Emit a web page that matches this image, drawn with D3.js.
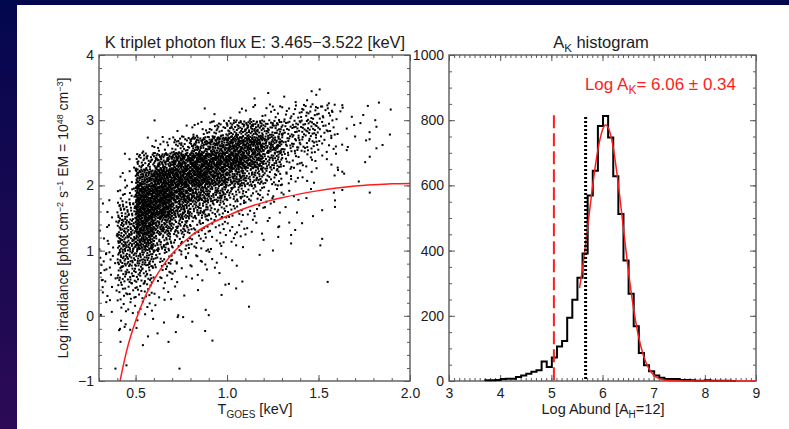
<!DOCTYPE html>
<html>
<head>
<meta charset="utf-8">
<script src="https://cdn.jsdelivr.net/npm/d3@7"></script>
<style>
  body { margin: 0; padding: 0; overflow: hidden; }
  svg { display: block; font-family: "Liberation Sans", Arial, Helvetica, sans-serif; }
</style>
</head>
<body>
<div id="chart"></div>
<script>
// ---- data ----

// left panel: x = T_GOES [keV], y = log irradiance
var scatterXDomain = [0.3, 2.0];
var scatterYDomain = [-1, 4];
var scatterXTicks = [0.5, 1.0, 1.5, 2.0];
var scatterYTicks = [-1, 0, 1, 2, 3, 4];

// density of the dot cloud: count of dots per cell (0.1 keV x 0.25 dex),
// columns start at 0.3 keV, rows listed from top (3.25-3.5) to bottom (-1.0 to -0.75)
var cloudColStart = [0.3, 0.4, 0.5, 0.6, 0.7, 0.8, 0.9, 1.0, 1.1, 1.2, 1.3, 1.4, 1.5, 1.6, 1.7, 1.8, 1.9];
var cloudRowStart = [3.25, 3.0, 2.75, 2.5, 2.25, 2.0, 1.75, 1.5, 1.25, 1.0, 0.75, 0.5, 0.25, 0.0, -0.25, -0.5, -0.75, -1.0];
var cloudCounts = [
  [0, 0, 0, 0, 0, 0, 0, 0, 1, 1, 2, 3, 2, 0, 0, 0, 0],
  [0, 0, 0, 0, 0, 0, 1, 3, 5, 9, 12, 20, 14, 3, 2, 1, 0],
  [0, 0, 0, 1, 3, 10, 25, 45, 55, 40, 30, 32, 14, 3, 2, 1, 0],
  [0, 0, 3, 12, 30, 60, 85, 100, 95, 65, 28, 22, 8, 2, 1, 1, 0],
  [0, 3, 35, 65, 100, 125, 125, 115, 90, 45, 16, 8, 4, 1, 1, 0, 0],
  [0, 5, 85, 130, 125, 130, 100, 70, 45, 22, 9, 4, 1, 1, 0, 0, 0],
  [1, 14, 135, 150, 105, 85, 55, 32, 18, 9, 4, 2, 1, 0, 0, 0, 0],
  [3, 35, 150, 125, 70, 45, 24, 14, 8, 5, 2, 1, 0, 0, 0, 0, 0],
  [4, 50, 125, 72, 38, 20, 11, 8, 5, 2, 1, 0, 0, 0, 0, 0, 0],
  [6, 55, 85, 38, 18, 11, 7, 5, 2, 1, 0, 0, 0, 0, 0, 0, 0],
  [8, 45, 48, 20, 10, 7, 5, 2, 1, 0, 0, 0, 0, 0, 0, 0, 0],
  [7, 30, 28, 11, 5, 4, 2, 1, 0, 0, 0, 0, 0, 0, 0, 0, 0],
  [4, 16, 15, 5, 2, 1, 1, 0, 0, 0, 0, 0, 0, 0, 0, 0, 0],
  [1, 8, 7, 2, 1, 1, 0, 0, 0, 0, 0, 0, 0, 0, 0, 0, 0],
  [0, 3, 2, 1, 1, 1, 0, 0, 0, 0, 0, 0, 0, 0, 0, 0, 0],
  [0, 1, 1, 0, 0, 0, 0, 0, 0, 0, 0, 0, 0, 0, 0, 0, 0],
  [0, 0, 0, 0, 0, 0, 0, 0, 0, 0, 0, 0, 0, 0, 0, 0, 0],
  [0, 0, 0, 0, 0, 0, 0, 0, 0, 0, 0, 0, 0, 0, 0, 0, 0]
];
var cloudCellW = 0.1, cloudCellH = 0.25;

// single stray dots readable on their own
var strayT = [0.878, 1.25, 1.52, 1.63, 1.83, 1.89, 1.85, 1.81, 1.78, 1.76, 1.70, 1.66, 1.64, 1.63, 1.59, 1.59, 1.63, 1.72, 1.78, 1.52,
              1.51, 1.52, 1.55, 1.41, 1.34, 1.35, 1.35, 1.28, 1.28, 1.12, 1.05, 1.01, 0.97, 0.92, 0.90, 0.81, 0.76, 0.72, 0.74, 0.68,
              0.62, 0.54, 0.51, 0.41, 0.415, 0.44, 0.39, 0.45, 0.36, 0.37, 0.34, 0.33, 0.32, 0.34, 0.32];
var strayV = [3.18, 3.21, 3.21, 3.23, 3.27, 2.78, 2.62, 3.0, 2.44, 2.69, 2.75, 2.59, 2.18, 2.21, 1.77, 1.67, 1.93, 2.06, 1.89, 1.62,
              1.08, 1.18, 0.52, 1.42, 1.43, 1.24, 1.11, 1.36, 1.21, 0.14, 0.42, 0.49, 0.32, -0.38, 0.01, -0.09, -0.02, -0.25, -0.81, -0.40,
              -0.27, -0.45, -0.07, -0.22, -0.20, -0.17, -0.81, -0.76, 0.24, 0.06, 0.21, 0.70, 0.55, 0.96, 0.44];

// red model curve on the left panel
var curveT = [0.415, 0.45, 0.5, 0.55, 0.6, 0.65, 0.7, 0.8, 0.9, 1.0, 1.1, 1.2, 1.3, 1.4, 1.5, 1.6, 1.7, 1.8, 1.9, 2.0];
var curveV = [-1, -0.55, -0.08, 0.28, 0.55, 0.77, 0.95, 1.22, 1.40, 1.53, 1.65, 1.74, 1.81, 1.87, 1.92, 1.96, 1.99, 2.01, 2.025, 2.03];

// right panel: histogram of log abundance
var histXDomain = [3, 9];
var histYDomain = [0, 1000];
var histXTicks = [3, 4, 5, 6, 7, 8, 9];
var histYTicks = [0, 200, 400, 600, 800, 1000];
var binEdges = [3.71, 3.81, 3.91, 4.01, 4.11, 4.21, 4.31, 4.41, 4.51, 4.61, 4.71, 4.81, 4.91, 5.01, 5.11, 5.21, 5.31, 5.41, 5.51, 5.61,
                5.71, 5.81, 5.91, 6.01, 6.11, 6.21, 6.31, 6.41, 6.51, 6.61, 6.71, 6.81, 6.91, 7.01, 7.11, 7.21, 7.31, 7.41, 7.51, 7.61,
                7.71, 7.81, 7.91, 8.01, 8.11, 8.21, 8.31, 8.41, 8.51];
var binCounts = [2, 2, 3, 6, 7, 7, 12, 17, 22, 28, 33, 60, 43, 72, 106, 123, 194, 249, 317, 391,
                 569, 645, 782, 813, 747, 628, 512, 370, 268, 168, 86, 48, 30, 17, 10, 6, 6, 6, 3, 3,
                 2, 1, 1, 2, 1, 1, 1, 1, 0];

// gaussian fit (red) read as points
var fitX = [5.55, 5.6, 5.7, 5.8, 5.9, 6.0, 6.06, 6.1, 6.2, 6.3, 6.4, 6.5, 6.6, 6.7, 6.8, 6.9, 7.0, 7.1, 7.2, 7.4, 7.6, 9.0];
var fitY = [285, 335, 460, 590, 700, 770, 785, 780, 725, 615, 480, 345, 230, 140, 78, 40, 18, 8, 3, 0.5, 0, 0];

var redDashX = 5.05, redDashTop = 815;
var blackDotX = 5.67, blackDotTop = 810;

// ---- layout ----
var W = 789, H = 429;
var red = "#ff1c1c", axisCol = "#5a5a5a", textCol = "#1c1c24";

var svg = d3.select("#chart").append("svg")
    .attr("width", W).attr("height", H);

var defs = svg.append("defs");
var grad = defs.append("linearGradient").attr("id", "strip")
    .attr("x1", 0).attr("y1", 0).attr("x2", 0).attr("y2", 1);
grad.append("stop").attr("offset", "0%").attr("stop-color", "#03074e");
grad.append("stop").attr("offset", "100%").attr("stop-color", "#2c0a56");

svg.append("rect").attr("width", W).attr("height", H).attr("fill", "url(#strip)");
svg.append("rect").attr("width", W).attr("height", 5).attr("fill", "#03074e");
svg.append("rect").attr("x", 17).attr("y", 5).attr("width", W - 17).attr("height", H - 5).attr("fill", "#fff");

// draws an IDL-like box with inward ticks on all four sides
function drawFrame(g, x, y, xMajor, xMinor, yMajor, yMinor, xFmt, yFmt) {
  var x0 = x.range()[0], x1 = x.range()[1], y0 = y.range()[0], y1 = y.range()[1];
  var maj = 6, mnr = 3;

  function ax(axisFn, vals, size, fmt, tr) {
    var a = g.append("g").attr("transform", tr)
      .call(axisFn.tickValues(vals).tickSizeInner(size).tickSizeOuter(0).tickFormat(fmt || ""));
    a.select(".domain").remove();
    a.selectAll("line").attr("stroke", axisCol).attr("stroke-width", 1);
    return a;
  }

  // bottom / top
  var b = ax(d3.axisBottom(x), xMajor, -maj, xFmt, "translate(0," + y0 + ")");
  b.selectAll("text").attr("y", 7).attr("dy", "0.71em");
  ax(d3.axisBottom(x), xMinor, -mnr, null, "translate(0," + y0 + ")");
  ax(d3.axisTop(x), xMajor, -maj, null, "translate(0," + y1 + ")");
  ax(d3.axisTop(x), xMinor, -mnr, null, "translate(0," + y1 + ")");
  // left / right
  var l = ax(d3.axisLeft(y), yMajor, -maj, yFmt, "translate(" + x0 + ",0)");
  l.selectAll("text").attr("x", -5);
  ax(d3.axisLeft(y), yMinor, -mnr, null, "translate(" + x0 + ",0)");
  ax(d3.axisRight(y), yMajor, -maj, null, "translate(" + x1 + ",0)");
  ax(d3.axisRight(y), yMinor, -mnr, null, "translate(" + x1 + ",0)");

  g.selectAll("text").attr("fill", textCol).style("font-size", "14px")
    .style("font-family", "'Liberation Sans', Arial, sans-serif");

  g.append("rect").attr("x", x0).attr("y", y1)
    .attr("width", x1 - x0).attr("height", y0 - y1)
    .attr("fill", "none").attr("stroke", axisCol).attr("stroke-width", 1.4);
}

function range(a, b, s) { return d3.range(Math.round((b - a) / s) + 1).map(function(i) { return +(a + i * s).toFixed(4); }); }

// ===== left panel =====
var xL = d3.scaleLinear().domain(scatterXDomain).range([99, 410]);
var yL = d3.scaleLinear().domain(scatterYDomain).range([381, 55]);

var gL = svg.append("g");
defs.append("clipPath").attr("id", "clipL").append("rect")
  .attr("x", 99).attr("y", 55).attr("width", 311).attr("height", 326);

// spread each cell's dots over the cell with a halton pattern
function halton(i, b) { var f = 1, r = 0; while (i > 0) { f /= b; r += f * (i % b); i = Math.floor(i / b); } return r; }
var dots = [], k = 1;
cloudRowStart.forEach(function(v0, r) {
  cloudColStart.forEach(function(t0, c) {
    for (var n = 0; n < cloudCounts[r][c]; n++, k++) {
      dots.push([t0 + halton(k, 2) * cloudCellW, v0 + halton(k, 3) * cloudCellH]);
    }
  });
});
strayT.forEach(function(t, i) { dots.push([t, strayV[i]]); });

var plotL = gL.append("g").attr("clip-path", "url(#clipL)");
plotL.selectAll("rect.dot").data(dots).enter().append("rect")
    .attr("class", "dot")
    .attr("x", function(d) { return xL(d[0]) - 1; })
    .attr("y", function(d) { return yL(d[1]) - 1; })
    .attr("width", 2).attr("height", 2)
    .attr("fill", "#000");

plotL.append("path")
    .datum(curveT.map(function(t, i) { return [t, curveV[i]]; }))
    .attr("fill", "none").attr("stroke", red).attr("stroke-width", 1.5)
    .attr("d", d3.line().x(function(d) { return xL(d[0]); }).y(function(d) { return yL(d[1]); }).curve(d3.curveMonotoneX));

drawFrame(gL, xL, yL, scatterXTicks, range(0.3, 2.0, 0.1), scatterYTicks, range(-1, 4, 0.2),
          d3.format(".1f"), d3.format("d"));

gL.append("text").attr("x", 255).attr("y", 48).attr("text-anchor", "middle")
  .attr("fill", textCol).style("font-size", "16.5px")
  .text("K triplet photon flux E: 3.465\u22123.522 [keV]");

var xl = gL.append("text").attr("x", 255).attr("y", 414).attr("text-anchor", "middle")
  .attr("fill", textCol).style("font-size", "14.5px");
xl.append("tspan").text("T");
xl.append("tspan").attr("dy", 4).style("font-size", "10px").text("GOES");
xl.append("tspan").attr("dy", -4).text(" [keV]");

var yl = gL.append("text").attr("transform", "translate(68,218) rotate(-90)")
  .attr("text-anchor", "middle").attr("fill", textCol).style("font-size", "14px");
yl.append("tspan").text("Log irradiance [phot cm");
yl.append("tspan").attr("dy", -5).style("font-size", "9px").text("\u22122");
yl.append("tspan").attr("dy", 5).text(" s");
yl.append("tspan").attr("dy", -5).style("font-size", "9px").text("\u22121");
yl.append("tspan").attr("dy", 5).text(" EM = 10");
yl.append("tspan").attr("dy", -5).style("font-size", "9px").text("48");
yl.append("tspan").attr("dy", 5).text(" cm");
yl.append("tspan").attr("dy", -5).style("font-size", "9px").text("\u22123");
yl.append("tspan").attr("dy", 5).text("]");

// ===== right panel =====
var xR = d3.scaleLinear().domain(histXDomain).range([449, 756]);
var yR = d3.scaleLinear().domain(histYDomain).range([381, 55]);
var gR = svg.append("g");

drawFrame(gR, xR, yR, histXTicks, range(3, 9, 0.1), histYTicks, range(0, 1000, 50),
          d3.format("d"), d3.format("d"));

var step = [[binEdges[0], 0]];
binEdges.forEach(function(e, i) { step.push([e, binCounts[i]]); });
step.push([binEdges[binEdges.length - 1] + 0.1, binCounts[binCounts.length - 1]]);

gR.append("path").datum(step)
  .attr("fill", "none").attr("stroke", "#000").attr("stroke-width", 2)
  .attr("d", d3.line().x(function(d) { return xR(d[0]); }).y(function(d) { return yR(d[1]); }).curve(d3.curveStepAfter));

gR.append("path")
  .datum(fitX.map(function(x, i) { return [x, fitY[i]]; }))
  .attr("fill", "none").attr("stroke", red).attr("stroke-width", 1.5)
  .attr("d", d3.line().x(function(d) { return xR(d[0]); }).y(function(d) { return yR(d[1]); }).curve(d3.curveMonotoneX));

gR.append("line")
  .attr("x1", xR(redDashX)).attr("x2", xR(redDashX))
  .attr("y1", yR(redDashTop)).attr("y2", yR(0))
  .attr("stroke", red).attr("stroke-width", 2).attr("stroke-dasharray", "13,5");

gR.append("line")
  .attr("x1", xR(blackDotX)).attr("x2", xR(blackDotX))
  .attr("y1", yR(blackDotTop)).attr("y2", yR(0))
  .attr("stroke", "#000").attr("stroke-width", 3).attr("stroke-dasharray", "2,2");

var tt = gR.append("text").attr("x", 601).attr("y", 48).attr("text-anchor", "middle")
  .attr("fill", textCol).style("font-size", "16.5px");
tt.append("tspan").text("A");
tt.append("tspan").attr("dy", 4).style("font-size", "11.5px").text("K");
tt.append("tspan").attr("dy", -4).text(" histogram");

var ann = gR.append("text").attr("x", 736).attr("y", 90).attr("text-anchor", "end")
  .attr("fill", red).style("font-size", "17px");
ann.append("tspan").text("Log A");
ann.append("tspan").attr("dy", 4).style("font-size", "12px").text("K");
ann.append("tspan").attr("dy", -4).text("= 6.06 \u00b1 0.34");

var xr = gR.append("text").attr("x", 603).attr("y", 414).attr("text-anchor", "middle")
  .attr("fill", textCol).style("font-size", "14.5px");
xr.append("tspan").text("Log Abund [A");
xr.append("tspan").attr("dy", 4).style("font-size", "10px").text("H");
xr.append("tspan").attr("dy", -4).text("=12]");
</script>
</body>
</html>
